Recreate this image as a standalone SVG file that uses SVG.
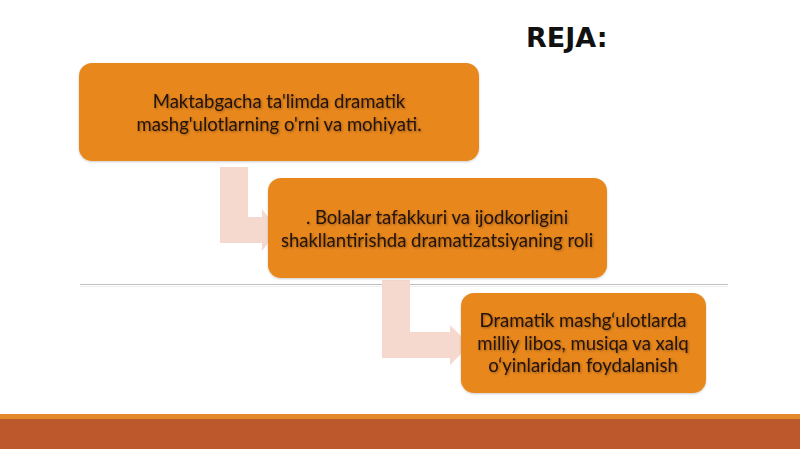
<svg xmlns="http://www.w3.org/2000/svg" width="800" height="449" viewBox="0 0 800 449">
  <defs>
    <filter id="ts" x="-5%" y="-20%" width="110%" height="140%">
      <feDropShadow dx="1" dy="1" stdDeviation="0.8" flood-color="#000000" flood-opacity="0.35"/>
    </filter>
    <filter id="bs" x="-5%" y="-5%" width="110%" height="115%">
      <feDropShadow dx="0" dy="1" stdDeviation="1" flood-color="#000000" flood-opacity="0.2"/>
    </filter>
  </defs>
  <style>
    .box { fill: #E8871D; filter: url(#bs); }
    .lbl { font-family: Lato, "Open Sans", "Liberation Sans", sans-serif; font-size: 18.5px; fill: #24120A; text-anchor: middle; filter: url(#ts); }
    .conn { fill: #F5D8CE; }
    .title { font-family: "DejaVu Sans", "Open Sans", sans-serif; font-weight: bold; font-size: 27px; fill: #111111; }
  </style>
  <rect x="0" y="0" width="800" height="449" fill="#FFFFFF"/>
  <text class="title" x="526" y="47">REJA:</text>
  <line x1="80" y1="284.5" x2="728" y2="284.5" stroke="#BFBFBF" stroke-width="1.2"/>
  <line x1="80" y1="286.5" x2="728" y2="286.5" stroke="#EEEEEE" stroke-width="1"/>
  <g id="connectors">
    <polygon class="conn" points="220,167 248,167 248,217 262,217 262,209 278,230 262,251 262,243 220,243"/>
    <polygon class="conn" points="382,280 410,280 410,332 450,332 450,325 470,345 450,365 450,358 382,358"/>
  </g>
  <g id="node1">
    <rect class="box" x="79" y="63" width="400" height="98" rx="13" ry="13"/>
    <text class="lbl" x="279" y="108">Maktabgacha ta'limda dramatik</text>
    <text class="lbl" x="279" y="131">mashg'ulotlarning o'rni va mohiyati.</text>
  </g>
  <g id="node2">
    <rect class="box" x="268" y="178" width="339" height="100" rx="13" ry="13"/>
    <text class="lbl" x="437" y="224">. Bolalar tafakkuri va ijodkorligini</text>
    <text class="lbl" x="437" y="247">shakllantirishda dramatizatsiyaning roli</text>
  </g>
  <g id="node3">
    <rect class="box" x="461" y="293" width="245" height="100" rx="13" ry="13"/>
    <text class="lbl" x="583" y="327">Dramatik mashg‘ulotlarda</text>
    <text class="lbl" x="583" y="350">milliy libos, musiqa va xalq</text>
    <text class="lbl" x="583" y="372">o‘yinlaridan foydalanish</text>
  </g>
  <rect x="0" y="414" width="800" height="6" fill="#E3892A"/>
  <rect x="0" y="419" width="800" height="30" fill="#BC582C"/>
</svg>
